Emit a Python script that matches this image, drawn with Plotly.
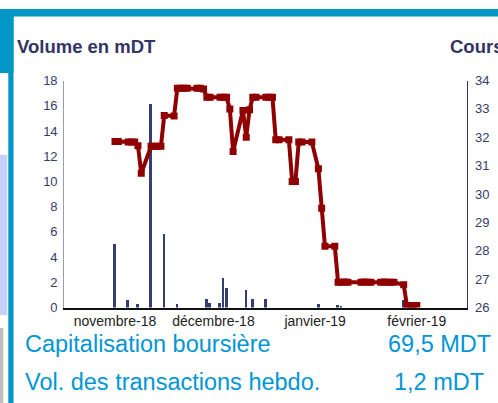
import plotly.graph_objects as go

W, H = 498, 403

# ---- data ----
price_dates = [
    "2018-11-01", "2018-11-02", "2018-11-05", "2018-11-06", "2018-11-07", "2018-11-08", "2018-11-09",
    "2018-11-12", "2018-11-13", "2018-11-14", "2018-11-15", "2018-11-16",
    "2018-11-19", "2018-11-20", "2018-11-21", "2018-11-22", "2018-11-23",
    "2018-11-26", "2018-11-27", "2018-11-28", "2018-11-29", "2018-11-30",
    "2018-12-03", "2018-12-04", "2018-12-05", "2018-12-06", "2018-12-07",
    "2018-12-10", "2018-12-11", "2018-12-12", "2018-12-13", "2018-12-14",
    "2018-12-17", "2018-12-18", "2018-12-19", "2018-12-20", "2018-12-21",
    "2018-12-24", "2018-12-25", "2018-12-26", "2018-12-27", "2018-12-28",
    "2018-12-31", "2019-01-02", "2019-01-03", "2019-01-04",
    "2019-01-07", "2019-01-08", "2019-01-09", "2019-01-10", "2019-01-11",
    "2019-01-15", "2019-01-16", "2019-01-17", "2019-01-18",
    "2019-01-21", "2019-01-22", "2019-01-23", "2019-01-24", "2019-01-25",
    "2019-01-28", "2019-01-29", "2019-01-30", "2019-01-31", "2019-02-01",
]
price_values = [
    31.85, 31.85, 31.83, 31.83, 31.83, 31.70, 30.73,
    31.68, 31.68, 31.68, 31.68, 32.77,
    32.75, 33.73, 33.73, 33.73, 33.73,
    33.73, 33.73, 33.70, 33.41, 33.41,
    33.41, 33.41, 33.41, 33.00, 31.50,
    32.94, 32.00, 32.97, 33.41, 33.41,
    33.41, 33.41, 33.41, 31.91, 31.91,
    31.91, 30.44, 30.44, 31.83, 31.83,
    31.83, 30.89, 29.50, 28.16,
    28.16, 26.89, 26.89, 26.90, 26.89,
    26.89, 26.90, 26.89, 26.89,
    26.89, 26.90, 26.89, 26.89, 26.89,
    26.80, 26.07, 26.07, 26.07, 26.07,
]

volume_dates = [
    "2018-11-01", "2018-11-05", "2018-11-08", "2018-11-12", "2018-11-16", "2018-11-20",
    "2018-11-29", "2018-11-30", "2018-12-03", "2018-12-04", "2018-12-05",
    "2018-12-11", "2018-12-13", "2018-12-17",
    "2019-01-02", "2019-01-08", "2019-01-09", "2019-01-28",
]
volume_values = [
    5.1, 0.66, 0.34, 16.2, 5.9, 0.34,
    0.75, 0.4, 0.4, 2.35, 1.57,
    1.43, 0.7, 0.68,
    0.3, 0.25, 0.08, 0.66,
]

month_ticks = ["2018-11-01", "2018-12-01", "2019-01-01", "2019-02-01"]
month_labels = ["novembre-18", "décembre-18", "janvier-19", "février-19"]

title_left = "Volume en mDT"
title_right = "Cours"
info_labels = ["Capitalisation boursière", "Vol. des transactions hebdo."]
info_values = ["69,5 MDT", "1,2 mDT"]

# ---- helpers (pixel -> paper) ----
def px(x):
    return x / W

def py(y):
    return 1 - y / H

FONT = "Liberation Sans, Arial, sans-serif"
NAVY = "#333366"
BLUE = "#0096D6"
TEAL = "#0096C6"

fig = go.Figure()

fig.add_trace(go.Bar(
    x=volume_dates, y=volume_values,
    marker=dict(color="#353D75", line=dict(width=0)),
    width=0.85 * 86400000,
    yaxis="y", showlegend=False,
))

fig.add_trace(go.Scatter(
    x=price_dates, y=price_values,
    mode="lines+markers",
    line=dict(color="#8F0000", width=4),
    marker=dict(symbol="square", size=7, color="#8F0000"),
    yaxis="y2", showlegend=False,
))

shapes = [
    dict(type="rect", xref="paper", yref="paper", x0=px(0), x1=px(W), y0=py(16.5), y1=py(9),
         fillcolor=TEAL, line=dict(width=0), layer="above"),
    dict(type="rect", xref="paper", yref="paper", x0=px(0), x1=px(13.5), y0=py(73), y1=py(9),
         fillcolor=TEAL, line=dict(width=0), layer="above"),
    dict(type="rect", xref="paper", yref="paper", x0=px(8.3), x1=px(13.5), y0=py(H), y1=py(9),
         fillcolor=TEAL, line=dict(width=0), layer="above"),
    dict(type="rect", xref="paper", yref="paper", x0=px(0), x1=px(7.3), y0=py(315), y1=py(155),
         fillcolor="#C8D0FA", line=dict(width=0), layer="above"),
    dict(type="rect", xref="paper", yref="paper", x0=px(0), x1=px(3.3), y0=py(H), y1=py(328),
         fillcolor="#BDBDBD", line=dict(width=0), layer="above"),
]

annotations = [
    dict(text="<b>%s</b>" % title_left, x=px(15), y=py(46.5), xref="paper", yref="paper",
         xanchor="left", yanchor="middle", showarrow=False,
         font=dict(family=FONT, size=18.5, color=NAVY)),
    dict(text="<b>%s</b>" % title_right, x=px(447.5), y=py(46.5), xref="paper", yref="paper",
         xanchor="left", yanchor="middle", showarrow=False,
         font=dict(family=FONT, size=18.5, color=NAVY)),
]
info_y = [343.5, 381.5]
for lab, val, yy in zip(info_labels, info_values, info_y):
    annotations.append(dict(text=lab, x=px(22.5), y=py(yy), xref="paper", yref="paper",
                            xanchor="left", yanchor="middle", showarrow=False,
                            font=dict(family=FONT, size=23.5, color=BLUE)))
    annotations.append(dict(text=val, x=px(439), y=py(yy), xref="paper", yref="paper",
                            xanchor="center", yanchor="middle", showarrow=False,
                            font=dict(family=FONT, size=23.5, color=BLUE)))

fig.update_layout(
    width=W, height=H, autosize=False,
    margin=dict(l=0, r=0, t=0, b=0, pad=0, autoexpand=False),
    paper_bgcolor="white", plot_bgcolor="white",
    bargap=0,
    font=dict(family=FONT),
    xaxis=dict(
        type="date", domain=[px(64.3), px(467.3)],
        range=["2018-10-16 13:00", "2019-02-16 09:20"],
        tickvals=month_ticks, ticktext=month_labels,
        showline=True, linecolor="#111111", linewidth=1.6,
        ticks="", showgrid=False, zeroline=False,
        tickfont=dict(family=FONT, size=14, color="#222222"),
        fixedrange=True,
    ),
    yaxis=dict(
        domain=[py(307.5), py(80.5)], range=[0, 18], dtick=2,
        showline=True, linecolor="#9A9AC0", linewidth=1.2,
        ticks="", showgrid=False, zeroline=False,
        ticklabelstandoff=3,
        tickfont=dict(family=FONT, size=13, color="#3A3A6A"),
    ),
    yaxis2=dict(
        overlaying="y", side="right", range=[26, 34], dtick=1,
        showline=True, linecolor=NAVY, linewidth=1.2,
        ticks="", showgrid=False, zeroline=False,
        ticklabelstandoff=4,
        tickfont=dict(family=FONT, size=13, color="#3A3A6A"),
    ),
    shapes=shapes,
    annotations=annotations,
)

fig.write_html(
    "out.html",
    config={"displayModeBar": False},
    post_script="document.body.style.margin='0';document.body.style.padding='0';"
                "document.body.style.overflow='hidden';"
                "document.documentElement.style.overflow='hidden';",
)
